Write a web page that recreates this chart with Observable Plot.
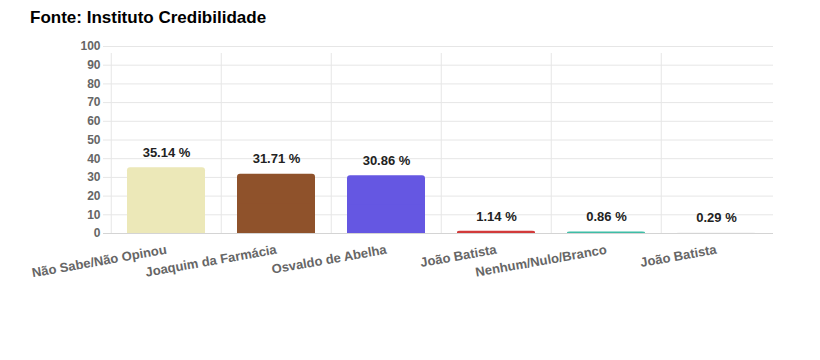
<!DOCTYPE html>
<html>
<head>
<meta charset="utf-8">
<script src="https://cdn.jsdelivr.net/npm/d3@7"></script>
<script src="https://cdn.jsdelivr.net/npm/@observablehq/plot@0.6"></script>
<style>
  html, body { margin: 0; padding: 0; background: #fff; }
  body { width: 820px; height: 360px; position: relative; overflow: hidden; font-family: "Liberation Sans", Arial, sans-serif; }
  #title { position: absolute; left: 30px; top: 8px; font-size: 17px; line-height: 19px; font-weight: bold; color: #000; }
  #chart { position: absolute; left: 0; top: 36px; }
</style>
</head>
<body>
<div id="title">Fonte: Instituto Credibilidade</div>
<div id="chart"></div>
<script>
const categories = ["Não Sabe/Não Opinou", "Joaquim da Farmácia", "Osvaldo de Abelha", "João Batista", "Nenhum/Nulo/Branco", "João Batista"];
const values = [35.14, 31.71, 30.86, 1.14, 0.86, 0.29];
const colors = ["#ECE8B8", "#8F522B", "#6557E2", "#D23A3A", "#3DBDA6", "#F2F2F2"];
const yTicks = [0, 10, 20, 30, 40, 50, 60, 70, 80, 90, 100];

const rows = categories.map((c, i) => ({i, name: c, v: values[i], color: colors[i]}));

const W = 820, H = 324, ML = 110, MR = 47, MT = 10, MB = 127;
const step = (W - ML - MR) / categories.length;

const chart = Plot.plot({
  width: W, height: H,
  marginLeft: ML, marginRight: MR, marginTop: MT, marginBottom: MB,
  style: {fontFamily: "'Liberation Sans', Arial, sans-serif", fontSize: "12px", background: "#fff"},
  x: {domain: d3.range(categories.length), paddingInner: 0.29, paddingOuter: 0.145, axis: null, label: null},
  y: {domain: [0, 100], axis: null, label: null},
  marks: [
    Plot.ruleY(yTicks.filter(d => d > 0), {y: d => d, stroke: "#e6e6e6", strokeWidth: 1, insetLeft: -7}),
    Plot.ruleX(d3.range(categories.length), {x: d => d, dx: -step / 2, y1: 0, y2: 100, insetBottom: -7, stroke: "#e6e6e6"}),
    Plot.barY(rows, {x: "i", y: "v", fill: "color", rx: 3}),
    Plot.barY(rows, {x: "i", y1: 0, y2: d => d.v / 2, fill: "color"}),
    Plot.ruleY([0], {y: d => d, stroke: "#d4d4d4", strokeWidth: 1, insetLeft: -7}),
    Plot.text(rows, {x: "i", y: "v", text: d => d.v.toFixed(2) + " %", dy: -15, fontWeight: "bold", fontSize: 13, fill: "#222"}),
    Plot.axisY({ticks: yTicks, tickSize: 0, tickPadding: 10, fill: "#666", fontWeight: "bold", fontSize: 12, label: null}),
    Plot.axisX({tickFormat: i => categories[i], tickRotate: -10, tickSize: 0, tickPadding: 16, fill: "#666", fontWeight: "bold", fontSize: 13, label: null})
  ]
});
document.getElementById("chart").appendChild(chart);
</script>
</body>
</html>
